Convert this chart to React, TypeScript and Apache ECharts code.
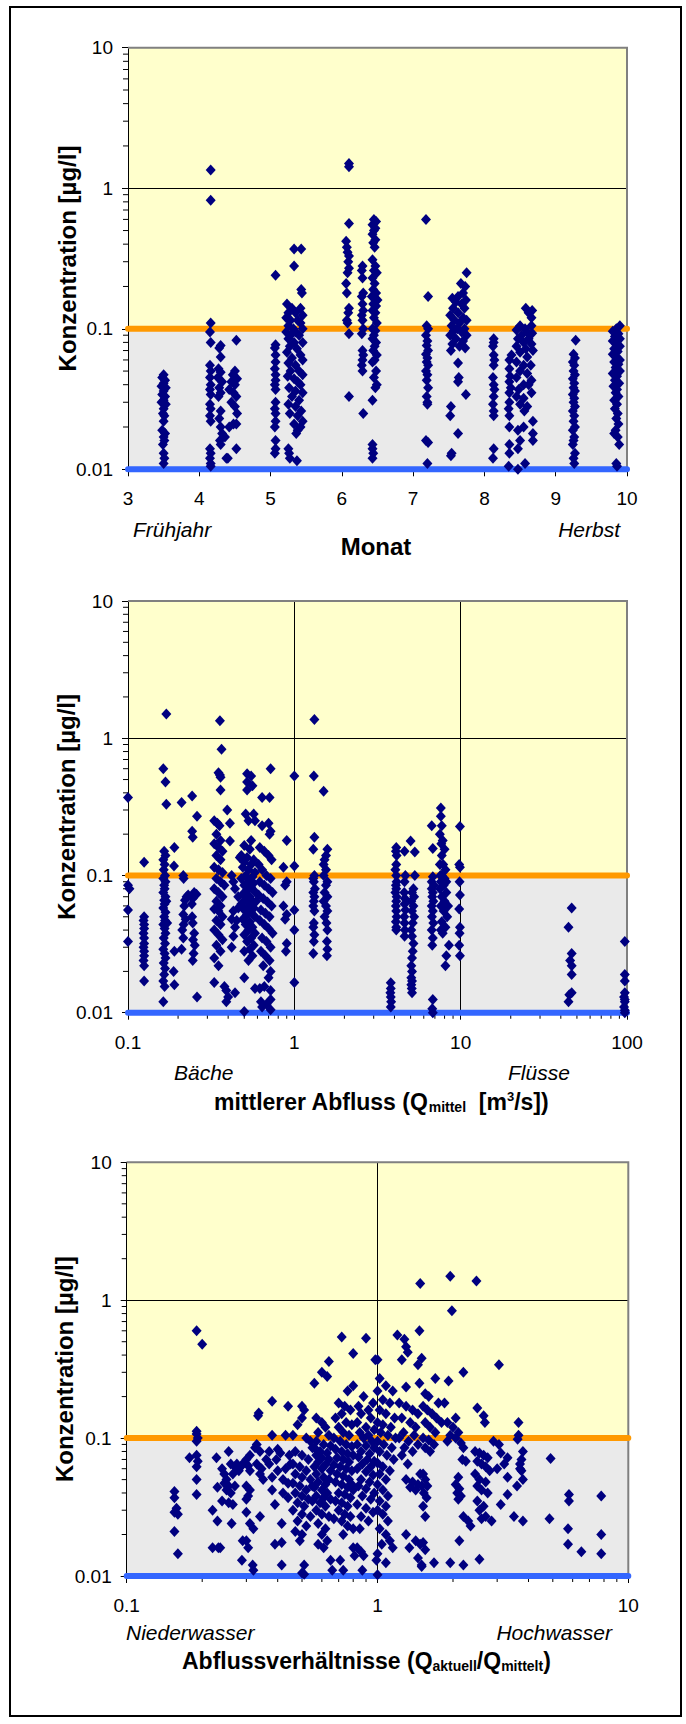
import React, { useEffect, useRef } from "react";
import * as echarts from "echarts";

const FONT = '"Liberation Sans", Arial, sans-serif';
const NAVY = "#000080";
const ORANGE = "#FF9900";
const BLUE = "#3366FF";
const YELLOW = "#FFFFCC";
const GRAY = "#EAEAEA";

const Y_MIN = 0.01;
const Y_MAX = 10;
const LIMIT_UPPER = 0.1;
const LIMIT_LOWER = 0.01;

const Y_MINOR = [0.02, 0.03, 0.04, 0.05, 0.06, 0.07, 0.08, 0.09, 0.2, 0.3, 0.4, 0.5, 0.6, 0.7, 0.8, 0.9, 2, 3, 4, 5, 6, 7, 8, 9];
const X2_MINOR = [0.2, 0.3, 0.4, 0.5, 0.6, 0.7, 0.8, 0.9, 2, 3, 4, 5, 6, 7, 8, 9, 20, 30, 40, 50, 60, 70, 80, 90];
const X3_MINOR = [0.2, 0.3, 0.4, 0.5, 0.6, 0.7, 0.8, 0.9, 2, 3, 4, 5, 6, 7, 8, 9];

const X1_RANGE = [3, 10];
const X2_RANGE = [0.1, 100];
const X3_RANGE = [0.1, 10];

// Panel 1: month vs concentration
const MONTH_POINTS: number[][] = [
  [3.5,0.047],[3.48,0.045],[3.52,0.043],[3.5,0.041],[3.47,0.039],[3.53,0.038],[3.5,0.036],[3.48,0.034],[3.52,0.033],[3.5,0.031],[3.47,0.03],[3.53,0.029],[3.5,0.027],[3.49,0.025],[3.51,0.024],[3.5,0.022],[3.48,0.019],[3.52,0.018],[3.5,0.017],[3.51,0.016],[3.49,0.015],[3.5,0.013],[3.51,0.012],[3.5,0.011],
  [4.16,1.35],[4.16,0.82],[4.16,0.11],[4.15,0.095],[4.16,0.08],[4.15,0.055],[4.16,0.05],[4.15,0.045],[4.16,0.04],[4.15,0.037],[4.16,0.034],[4.15,0.029],[4.16,0.027],[4.15,0.024],[4.16,0.022],[4.15,0.014],[4.16,0.013],[4.15,0.012],[4.16,0.011],[4.16,0.0105],
  [4.3,0.076],[4.28,0.073],[4.3,0.063],[4.27,0.052],[4.3,0.049],[4.26,0.045],[4.32,0.042],[4.28,0.038],[4.3,0.035],[4.27,0.033],[4.3,0.026],[4.28,0.023],[4.3,0.02],[4.32,0.018],[4.29,0.016],[4.3,0.015],[4.36,0.017],[4.38,0.012],
  [4.52,0.083],[4.5,0.05],[4.47,0.047],[4.53,0.044],[4.45,0.042],[4.5,0.04],[4.42,0.037],[4.48,0.035],[4.52,0.033],[4.45,0.03],[4.5,0.028],[4.53,0.025],[4.48,0.021],[4.52,0.021],[4.42,0.02],[4.52,0.014],[4.4,0.012],
  [5.07,0.24],[5.07,0.077],[5.06,0.073],[5.07,0.065],[5.07,0.058],[5.06,0.052],[5.07,0.047],[5.07,0.043],[5.06,0.04],[5.07,0.037],[5.07,0.03],[5.06,0.027],[5.07,0.025],[5.07,0.022],[5.06,0.02],[5.07,0.016],[5.07,0.014],[5.06,0.013],
  [5.33,0.37],[5.43,0.37],[5.33,0.28],[5.43,0.19],[5.44,0.18],[5.23,0.15],[5.3,0.14],[5.42,0.14],[5.25,0.13],[5.35,0.13],[5.45,0.125],[5.22,0.12],[5.28,0.115],[5.38,0.115],[5.42,0.11],[5.25,0.105],[5.32,0.1],[5.45,0.1],[5.22,0.095],[5.35,0.095],[5.28,0.09],[5.4,0.09],[5.25,0.085],[5.33,0.08],[5.45,0.08],[5.27,0.075],[5.37,0.072],[5.23,0.068],[5.42,0.065],[5.3,0.062],[5.45,0.06],[5.25,0.057],[5.35,0.055],[5.28,0.05],[5.4,0.05],[5.45,0.047],[5.24,0.046],[5.33,0.044],[5.38,0.042],[5.42,0.04],[5.26,0.038],[5.35,0.036],[5.45,0.035],[5.3,0.033],[5.4,0.031],[5.25,0.029],[5.35,0.028],[5.43,0.026],[5.27,0.025],[5.38,0.024],[5.45,0.022],[5.33,0.021],[5.42,0.02],[5.38,0.019],[5.36,0.018],[5.25,0.014],[5.26,0.013],[5.27,0.012],[5.37,0.0115],
  [6.1,1.5],[6.1,1.42],[6.1,0.56],[6.06,0.42],[6.07,0.38],[6.08,0.35],[6.1,0.33],[6.09,0.3],[6.1,0.27],[6.08,0.25],[6.06,0.21],[6.07,0.18],[6.1,0.14],[6.09,0.13],[6.07,0.115],[6.08,0.11],[6.1,0.092],[6.1,0.033],
  [6.29,0.28],[6.28,0.26],[6.29,0.23],[6.3,0.18],[6.28,0.17],[6.29,0.15],[6.3,0.135],[6.28,0.125],[6.29,0.115],[6.3,0.1],[6.28,0.092],[6.29,0.07],[6.3,0.065],[6.29,0.06],[6.28,0.055],[6.29,0.05],[6.3,0.025],
  [6.45,0.6],[6.48,0.58],[6.43,0.55],[6.47,0.52],[6.45,0.5],[6.43,0.47],[6.47,0.43],[6.44,0.41],[6.46,0.38],[6.43,0.31],[6.47,0.28],[6.45,0.26],[6.49,0.25],[6.43,0.23],[6.46,0.21],[6.44,0.19],[6.48,0.18],[6.42,0.17],[6.46,0.165],[6.5,0.16],[6.44,0.15],[6.48,0.145],[6.43,0.135],[6.47,0.13],[6.45,0.12],[6.49,0.11],[6.43,0.1],[6.47,0.097],[6.45,0.09],[6.43,0.085],[6.48,0.08],[6.46,0.075],[6.44,0.07],[6.49,0.065],[6.46,0.06],[6.43,0.058],[6.48,0.05],[6.45,0.045],[6.49,0.04],[6.47,0.038],[6.43,0.031],[6.43,0.015],[6.43,0.014],[6.44,0.013],[6.43,0.012],
  [7.18,0.6],[7.21,0.17],[7.19,0.105],[7.21,0.1],[7.18,0.09],[7.2,0.082],[7.19,0.076],[7.21,0.07],[7.18,0.066],[7.2,0.062],[7.19,0.058],[7.21,0.055],[7.18,0.05],[7.2,0.047],[7.19,0.043],[7.21,0.038],[7.19,0.033],[7.2,0.03],[7.2,0.029],[7.18,0.016],[7.21,0.0155],[7.2,0.011],
  [7.75,0.25],[7.67,0.21],[7.73,0.2],[7.7,0.18],[7.63,0.17],[7.55,0.165],[7.74,0.16],[7.6,0.155],[7.68,0.15],[7.56,0.14],[7.72,0.14],[7.63,0.13],[7.52,0.125],[7.7,0.12],[7.58,0.115],[7.75,0.115],[7.65,0.11],[7.54,0.105],[7.62,0.1],[7.72,0.1],[7.57,0.097],[7.68,0.095],[7.52,0.09],[7.75,0.09],[7.6,0.085],[7.7,0.082],[7.55,0.078],[7.65,0.075],[7.73,0.073],[7.53,0.07],[7.63,0.057],[7.64,0.045],[7.63,0.042],[7.74,0.034],[7.53,0.028],[7.52,0.024],[7.63,0.018],[7.54,0.013],[7.53,0.0125],
  [8.13,0.085],[8.13,0.08],[8.12,0.075],[8.13,0.065],[8.14,0.06],[8.13,0.055],[8.12,0.045],[8.13,0.04],[8.14,0.037],[8.13,0.033],[8.12,0.029],[8.13,0.026],[8.13,0.024],[8.13,0.014],[8.12,0.012],
  [8.58,0.14],[8.67,0.135],[8.62,0.13],[8.66,0.12],[8.5,0.105],[8.66,0.105],[8.57,0.1],[8.45,0.098],[8.6,0.095],[8.67,0.093],[8.52,0.09],[8.47,0.085],[8.62,0.085],[8.55,0.08],[8.66,0.078],[8.45,0.075],[8.58,0.072],[8.68,0.07],[8.5,0.068],[8.38,0.065],[8.6,0.063],[8.35,0.06],[8.45,0.058],[8.55,0.055],[8.65,0.055],[8.35,0.052],[8.5,0.05],[8.6,0.048],[8.36,0.046],[8.45,0.045],[8.66,0.043],[8.35,0.042],[8.55,0.04],[8.62,0.04],[8.37,0.038],[8.48,0.037],[8.35,0.035],[8.66,0.035],[8.45,0.033],[8.55,0.032],[8.35,0.03],[8.5,0.029],[8.6,0.028],[8.34,0.027],[8.56,0.026],[8.35,0.024],[8.68,0.022],[8.35,0.02],[8.55,0.02],[8.47,0.019],[8.68,0.018],[8.5,0.016],[8.68,0.016],[8.35,0.015],[8.47,0.014],[8.35,0.013],[8.57,0.011],[8.34,0.0105],[8.47,0.01],
  [9.28,0.083],[9.25,0.066],[9.27,0.062],[9.24,0.058],[9.26,0.055],[9.25,0.05],[9.27,0.047],[9.24,0.044],[9.26,0.041],[9.25,0.038],[9.27,0.036],[9.24,0.034],[9.26,0.032],[9.25,0.03],[9.27,0.028],[9.24,0.026],[9.26,0.024],[9.25,0.022],[9.27,0.02],[9.24,0.019],[9.26,0.017],[9.25,0.016],[9.24,0.015],[9.27,0.013],[9.25,0.012],[9.26,0.011],
  [9.9,0.105],[9.85,0.1],[9.8,0.096],[9.88,0.092],[9.83,0.088],[9.9,0.085],[9.8,0.082],[9.86,0.078],[9.9,0.075],[9.82,0.072],[9.87,0.069],[9.8,0.066],[9.85,0.063],[9.9,0.06],[9.82,0.058],[9.88,0.056],[9.84,0.053],[9.9,0.05],[9.8,0.048],[9.86,0.046],[9.83,0.043],[9.89,0.041],[9.81,0.039],[9.86,0.037],[9.84,0.035],[9.88,0.033],[9.82,0.031],[9.86,0.029],[9.83,0.027],[9.87,0.025],[9.85,0.023],[9.88,0.021],[9.84,0.019],[9.87,0.017],[9.82,0.018],[9.89,0.015],[9.85,0.011],[9.86,0.0105]
];

// Panel 2: mean discharge vs concentration
const FLOW_POINTS: number[][] = [
  [0.1,0.37],[0.1,0.085],[0.102,0.08],[0.1,0.056],[0.1,0.033],
  [0.125,0.125],[0.125,0.05],[0.124,0.047],[0.125,0.044],[0.125,0.041],[0.124,0.038],[0.125,0.035],[0.125,0.032],[0.124,0.03],[0.125,0.028],[0.125,0.026],[0.124,0.024],[0.125,0.022],[0.125,0.017],
  [0.17,1.5],[0.163,0.6],[0.168,0.48],[0.17,0.33],[0.165,0.15],[0.168,0.14],[0.163,0.13],[0.166,0.12],[0.164,0.11],[0.167,0.1],[0.163,0.095],[0.168,0.09],[0.165,0.085],[0.166,0.08],[0.163,0.075],[0.168,0.07],[0.165,0.066],[0.166,0.062],[0.163,0.058],[0.168,0.054],[0.165,0.05],[0.167,0.047],[0.163,0.044],[0.166,0.041],[0.168,0.038],[0.164,0.035],[0.167,0.032],[0.163,0.029],[0.166,0.027],[0.168,0.025],[0.164,0.023],[0.167,0.021],[0.165,0.019],[0.163,0.017],[0.166,0.0155],[0.163,0.012],[0.17,0.065],[0.172,0.045],
  [0.19,0.16],[0.189,0.117],[0.19,0.028],[0.188,0.02],[0.19,0.016],
  [0.21,0.34],[0.215,0.1],[0.216,0.095],[0.225,0.07],[0.22,0.066],[0.218,0.06],[0.215,0.052],[0.222,0.048],[0.216,0.044],[0.212,0.04],[0.215,0.035],[0.21,0.029],[0.23,0.072],
  [0.243,0.38],[0.26,0.27],[0.243,0.21],[0.245,0.19],[0.25,0.075],[0.245,0.068],[0.242,0.062],[0.243,0.05],[0.245,0.045],[0.25,0.038],[0.246,0.034],[0.252,0.031],[0.248,0.027],[0.245,0.024],[0.26,0.013],[0.258,0.073],
  [0.357,1.34],[0.365,0.83],[0.35,0.56],[0.357,0.54],[0.36,0.52],[0.36,0.42],[0.395,0.3],[0.33,0.25],[0.345,0.24],[0.355,0.23],[0.34,0.2],[0.36,0.18],[0.33,0.17],[0.35,0.16],[0.37,0.15],[0.34,0.14],[0.36,0.13],[0.33,0.115],[0.35,0.11],[0.37,0.105],[0.34,0.095],[0.36,0.09],[0.38,0.085],[0.33,0.08],[0.35,0.075],[0.37,0.07],[0.34,0.065],[0.36,0.06],[0.33,0.057],[0.35,0.055],[0.37,0.05],[0.34,0.047],[0.36,0.044],[0.33,0.04],[0.35,0.037],[0.37,0.034],[0.34,0.031],[0.36,0.028],[0.33,0.025],[0.35,0.022],[0.33,0.0166],[0.38,0.0155],[0.39,0.0145],[0.4,0.013],[0.39,0.012],
  [0.41,0.24],[0.41,0.178],[0.42,0.1],[0.43,0.09],[0.44,0.08],[0.43,0.055],[0.42,0.048],[0.44,0.042],[0.43,0.036],[0.42,0.03],[0.44,0.014],[0.45,0.047],[0.46,0.058],
  [0.52,0.55],[0.55,0.53],[0.52,0.48],[0.56,0.45],[0.52,0.42],[0.51,0.28],[0.57,0.28],[0.53,0.25],[0.58,0.25],[0.55,0.18],[0.5,0.165],[0.54,0.155],[0.48,0.14],[0.52,0.135],[0.57,0.13],[0.5,0.125],[0.55,0.12],[0.49,0.115],[0.53,0.11],[0.58,0.105],[0.51,0.1],[0.56,0.098],[0.48,0.095],[0.53,0.09],[0.57,0.088],[0.5,0.085],[0.55,0.082],[0.52,0.078],[0.58,0.076],[0.49,0.073],[0.54,0.07],[0.51,0.067],[0.56,0.065],[0.48,0.062],[0.53,0.06],[0.57,0.058],[0.5,0.056],[0.55,0.054],[0.52,0.052],[0.58,0.05],[0.49,0.048],[0.54,0.046],[0.51,0.044],[0.56,0.042],[0.53,0.04],[0.58,0.038],[0.5,0.037],[0.55,0.035],[0.52,0.033],[0.57,0.031],[0.54,0.029],[0.5,0.028],[0.56,0.026],[0.53,0.024],[0.5,0.018],[0.58,0.015],[0.5,0.0102],[0.47,0.135],[0.46,0.07],[0.59,0.065],
  [0.72,0.6],[0.64,0.37],[0.71,0.37],[0.64,0.23],[0.72,0.21],[0.71,0.2],[0.7,0.24],[0.62,0.16],[0.66,0.15],[0.7,0.14],[0.73,0.13],[0.61,0.12],[0.64,0.11],[0.68,0.1],[0.72,0.095],[0.62,0.09],[0.66,0.085],[0.7,0.08],[0.74,0.075],[0.61,0.072],[0.65,0.068],[0.69,0.064],[0.73,0.06],[0.63,0.056],[0.67,0.053],[0.71,0.05],[0.62,0.047],[0.66,0.044],[0.7,0.041],[0.74,0.038],[0.64,0.035],[0.68,0.033],[0.72,0.03],[0.63,0.028],[0.67,0.026],[0.71,0.024],[0.65,0.022],[0.72,0.02],[0.7,0.018],[0.62,0.015],[0.66,0.0155],[0.72,0.0145],[0.63,0.012],[0.68,0.0115],[0.72,0.0125],[0.64,0.011],[0.72,0.0105],
  [0.9,0.18],[0.86,0.115],[0.9,0.09],[0.88,0.085],[0.86,0.06],[0.9,0.052],[0.88,0.048],[0.9,0.032],[0.89,0.028],
  [1.0,0.53],[1.0,0.117],[1.0,0.056],[1.0,0.04],[1.0,0.0166],
  [1.32,1.37],[1.31,0.53],[1.32,0.19],[1.3,0.155],[1.32,0.1],[1.3,0.095],[1.31,0.09],[1.33,0.08],[1.3,0.075],[1.32,0.07],[1.31,0.065],[1.3,0.06],[1.32,0.055],[1.31,0.045],[1.3,0.042],[1.32,0.037],[1.31,0.033],[1.3,0.027],
  [1.5,0.41],[1.58,0.155],[1.55,0.14],[1.52,0.13],[1.5,0.12],[1.55,0.11],[1.5,0.1],[1.58,0.09],[1.55,0.085],[1.52,0.075],[1.58,0.07],[1.5,0.065],[1.55,0.06],[1.58,0.055],[1.52,0.05],[1.56,0.045],[1.58,0.04],[1.57,0.033],[1.58,0.029],[1.57,0.026],
  [3.8,0.0165],[3.8,0.015],[3.78,0.014],[3.8,0.013],[3.82,0.012],[3.8,0.011],
  [4.1,0.16],[4.08,0.15],[4.12,0.14],[4.1,0.12],[4.05,0.11],[4.1,0.1],[4.12,0.09],[4.08,0.085],[4.1,0.08],[4.05,0.075],[4.12,0.07],[4.1,0.065],[4.08,0.06],[4.1,0.055],[4.12,0.05],[4.08,0.046],[4.1,0.042],[4.1,0.04],
  [4.6,0.15],[4.65,0.1],[4.6,0.09],[4.58,0.075],[4.62,0.068],[4.6,0.062],[4.65,0.056],[4.58,0.05],[4.6,0.045],[4.62,0.04],[4.6,0.036],
  [5.0,0.178],[5.3,0.148],[5.3,0.1],[5.2,0.08],[5.1,0.075],[5.25,0.07],[5.05,0.065],[5.2,0.06],[5.1,0.055],[5.25,0.05],[5.15,0.045],[5.05,0.04],[5.1,0.036],[5.2,0.032],[5.15,0.028],[5.1,0.025],[5.05,0.022],[5.1,0.02],[5.05,0.018],[5.1,0.017],[5.05,0.016],[5.08,0.015],[5.1,0.014],
  [6.7,0.23],[6.8,0.157],[6.8,0.098],[6.7,0.09],[6.9,0.085],[6.7,0.08],[6.8,0.075],[6.75,0.07],[6.85,0.065],[6.7,0.06],[6.8,0.055],[6.72,0.05],[6.85,0.045],[6.7,0.04],[6.8,0.035],[6.75,0.031],[6.8,0.0125],[6.75,0.0107],[6.8,0.01],
  [7.6,0.31],[7.6,0.27],[7.7,0.23],[7.5,0.2],[7.8,0.18],[7.65,0.17],[8.0,0.155],[7.7,0.14],[7.5,0.12],[8.1,0.11],[7.7,0.1],[8.0,0.095],[7.6,0.09],[7.9,0.085],[7.5,0.08],[8.2,0.075],[7.7,0.07],[8.0,0.065],[7.6,0.06],[7.9,0.055],[8.3,0.05],[7.7,0.046],[8.1,0.042],[7.8,0.038],[8.5,0.031],[8.2,0.026],[8.1,0.022],[7.55,0.1],[7.85,0.12],[8.2,0.09],[7.6,0.04],[8.4,0.06],
  [9.9,0.227],[9.8,0.12],[9.9,0.115],[9.85,0.09],[9.9,0.072],[9.8,0.057],[9.9,0.042],[9.85,0.038],[9.8,0.031],[9.9,0.026],
  [46.5,0.058],[44.5,0.042],[46.5,0.027],[45.5,0.024],[46.5,0.022],[46.5,0.019],[46.5,0.014],[44.5,0.012],[45,0.0135],
  [97,0.033],[97,0.019],[97,0.017],[97,0.014],[96,0.013],[97,0.0125],[97,0.012],[96,0.011],[97,0.0104],[97,0.01]
];

// Panel 3: discharge ratio vs concentration
const RATIO_POINTS: number[][] = [
  [0.155,0.041],[0.155,0.037],[0.158,0.031],[0.155,0.029],[0.16,0.028],[0.155,0.021],[0.16,0.0145],
  [0.178,0.072],[0.19,0.6],[0.2,0.48],[0.19,0.112],[0.19,0.107],[0.192,0.1],[0.19,0.095],[0.19,0.075],[0.192,0.068],[0.19,0.062],[0.19,0.05],[0.19,0.039],
  [0.22,0.03],[0.22,0.016],[0.228,0.072],[0.23,0.025],[0.232,0.016],
  [0.24,0.06],[0.245,0.055],[0.25,0.05],[0.245,0.047],[0.255,0.08],[0.26,0.065],[0.27,0.062],[0.265,0.055],[0.255,0.045],[0.25,0.042],[0.26,0.04],[0.275,0.065],[0.28,0.058],[0.285,0.062],[0.24,0.035],[0.255,0.034],[0.265,0.033],[0.262,0.024],[0.236,0.016],[0.27,0.045],[0.23,0.044],
  [0.336,0.152],[0.334,0.145],[0.33,0.09],[0.325,0.085],[0.31,0.075],[0.3,0.07],[0.305,0.063],[0.31,0.058],[0.34,0.055],[0.3,0.045],[0.31,0.042],[0.305,0.038],[0.3,0.036],[0.3,0.029],[0.34,0.027],[0.31,0.024],[0.32,0.022],[0.29,0.018],[0.3,0.018],[0.305,0.016],[0.288,0.013],[0.318,0.012],[0.32,0.011],[0.33,0.065],[0.345,0.06],[0.35,0.05],[0.29,0.065],[0.34,0.08],
  [0.38,0.185],[0.44,0.17],[0.38,0.105],[0.43,0.105],[0.4,0.083],[0.41,0.078],[0.395,0.07],[0.37,0.065],[0.38,0.052],[0.42,0.05],[0.44,0.047],[0.38,0.042],[0.42,0.04],[0.44,0.037],[0.39,0.033],[0.415,0.024],[0.39,0.017],[0.415,0.0175],[0.415,0.012],[0.45,0.065],[0.43,0.06],[0.4,0.058],[0.36,0.07],[0.37,0.08],[0.445,0.075],
  [0.5,0.17],[0.51,0.16],[0.5,0.14],[0.48,0.125],[0.46,0.105],[0.52,0.1],[0.54,0.095],[0.55,0.085],[0.47,0.08],[0.5,0.075],[0.53,0.07],[0.46,0.065],[0.49,0.062],[0.52,0.058],[0.47,0.055],[0.5,0.052],[0.54,0.05],[0.46,0.047],[0.49,0.045],[0.52,0.042],[0.47,0.04],[0.5,0.038],[0.53,0.036],[0.48,0.034],[0.51,0.032],[0.46,0.03],[0.5,0.028],[0.54,0.027],[0.48,0.025],[0.52,0.023],[0.47,0.021],[0.5,0.02],[0.49,0.018],[0.51,0.012],[0.5,0.0105],[0.51,0.0103],[0.55,0.045],[0.55,0.035],
  [0.56,0.25],[0.6,0.3],[0.63,0.28],[0.64,0.36],[0.57,0.14],[0.6,0.13],[0.62,0.12],[0.58,0.11],[0.64,0.105],[0.57,0.095],[0.61,0.09],[0.65,0.088],[0.56,0.085],[0.59,0.08],[0.63,0.078],[0.57,0.075],[0.6,0.072],[0.64,0.07],[0.58,0.067],[0.62,0.064],[0.56,0.062],[0.6,0.06],[0.65,0.058],[0.57,0.055],[0.61,0.052],[0.64,0.05],[0.58,0.048],[0.62,0.046],[0.56,0.044],[0.6,0.042],[0.63,0.04],[0.57,0.038],[0.61,0.037],[0.65,0.036],[0.59,0.034],[0.62,0.032],[0.57,0.03],[0.6,0.028],[0.64,0.027],[0.58,0.024],[0.62,0.022],[0.6,0.02],[0.63,0.018],[0.61,0.016],[0.65,0.013],[0.66,0.011],[0.58,0.017],
  [0.72,0.54],[0.8,0.41],[0.8,0.24],[0.76,0.22],[0.7,0.18],[0.74,0.17],[0.78,0.16],[0.72,0.15],[0.68,0.14],[0.75,0.13],[0.79,0.125],[0.7,0.12],[0.73,0.11],[0.77,0.105],[0.67,0.1],[0.71,0.095],[0.75,0.09],[0.79,0.087],[0.68,0.083],[0.72,0.08],[0.76,0.077],[0.8,0.075],[0.69,0.072],[0.73,0.07],[0.77,0.067],[0.67,0.064],[0.71,0.062],[0.75,0.06],[0.79,0.058],[0.69,0.055],[0.73,0.053],[0.77,0.05],[0.68,0.048],[0.72,0.046],[0.76,0.044],[0.8,0.042],[0.7,0.04],[0.74,0.039],[0.78,0.037],[0.68,0.035],[0.72,0.034],[0.76,0.032],[0.7,0.03],[0.74,0.028],[0.78,0.027],[0.72,0.025],[0.76,0.023],[0.8,0.022],[0.73,0.02],[0.8,0.016],[0.81,0.014],[0.71,0.013],[0.73,0.011],[0.67,0.026],[0.79,0.046],
  [0.9,0.53],[0.98,0.37],[0.88,0.2],[0.96,0.18],[0.84,0.17],[0.92,0.16],[0.86,0.15],[0.94,0.14],[0.83,0.13],[0.9,0.12],[0.97,0.115],[0.85,0.11],[0.92,0.105],[0.88,0.1],[0.95,0.095],[0.83,0.09],[0.9,0.088],[0.97,0.085],[0.86,0.08],[0.93,0.077],[0.84,0.073],[0.91,0.07],[0.97,0.068],[0.87,0.065],[0.94,0.062],[0.83,0.06],[0.9,0.057],[0.96,0.054],[0.86,0.05],[0.93,0.048],[0.84,0.045],[0.9,0.043],[0.97,0.04],[0.87,0.038],[0.94,0.036],[0.83,0.033],[0.9,0.031],[0.96,0.029],[0.86,0.027],[0.92,0.025],[0.85,0.022],[0.83,0.016],[0.86,0.015],[0.88,0.014],[0.87,0.011],
  [1.0,0.37],[1.02,0.27],[1.08,0.24],[1.15,0.22],[1.0,0.22],[1.05,0.19],[1.12,0.18],[1.02,0.16],[1.08,0.15],[1.17,0.14],[1.0,0.13],[1.05,0.125],[1.13,0.12],[1.03,0.11],[1.1,0.105],[1.18,0.1],[1.0,0.095],[1.06,0.09],[1.14,0.085],[1.02,0.08],[1.09,0.075],[1.16,0.07],[1.0,0.066],[1.05,0.062],[1.12,0.058],[1.02,0.055],[1.08,0.05],[1.0,0.046],[1.05,0.042],[1.1,0.038],[1.02,0.035],[1.08,0.032],[1.0,0.03],[1.05,0.028],[1.1,0.025],[1.02,0.022],[1.08,0.02],[1.12,0.018],[1.15,0.016],[1.0,0.0145],[0.99,0.013],[1.08,0.0125],[1.0,0.0102],[1.04,0.017],
  [1.2,0.56],[1.28,0.52],[1.3,0.46],[1.32,0.42],[1.25,0.37],[1.45,0.34],[1.47,0.6],[1.48,1.32],[1.47,0.25],[1.3,0.235],[1.22,0.18],[1.3,0.17],[1.38,0.16],[1.45,0.15],[1.25,0.14],[1.35,0.13],[1.42,0.12],[1.27,0.11],[1.4,0.105],[1.22,0.1],[1.33,0.095],[1.45,0.09],[1.28,0.085],[1.38,0.08],[1.25,0.075],[1.32,0.065],[1.3,0.05],[1.38,0.048],[1.45,0.046],[1.35,0.044],[1.42,0.042],[1.3,0.02],[1.42,0.018],[1.48,0.017],[1.34,0.016],[1.45,0.0135],[1.5,0.0117],[1.5,0.012],[1.48,0.055],[1.5,0.045],
  [1.5,0.38],[1.7,0.27],[1.55,0.21],[1.6,0.2],[1.52,0.17],[1.58,0.16],[1.65,0.15],[1.72,0.14],[1.55,0.13],[1.62,0.12],[1.7,0.11],[1.52,0.1],[1.6,0.097],[1.68,0.09],[1.55,0.085],[1.62,0.08],[1.52,0.055],[1.55,0.05],[1.58,0.045],[1.53,0.04],[1.57,0.037],[1.52,0.032],[1.55,0.027],[1.52,0.0175],[1.55,0.0155],[1.68,0.0125],[1.75,0.18],[1.8,0.13],
  [1.95,1.49],[1.98,0.84],[2.2,0.3],[1.92,0.26],[1.85,0.18],[2.05,0.14],[1.9,0.13],[2.0,0.12],[2.1,0.11],[1.95,0.105],[2.05,0.1],[1.9,0.095],[2.15,0.092],[2.2,0.085],[2.18,0.07],[2.25,0.068],[2.1,0.052],[2.05,0.046],[2.12,0.043],[2.08,0.04],[2.15,0.038],[2.1,0.036],[2.2,0.027],[2.3,0.025],[2.35,0.023],[2.12,0.018],[1.95,0.0125],[2.2,0.012],
  [2.48,1.38],[2.5,0.165],[2.65,0.145],[2.68,0.13],[2.9,0.095],[2.45,0.08],[2.55,0.078],[2.65,0.075],[2.75,0.072],[2.5,0.068],[2.6,0.065],[2.7,0.062],[2.8,0.058],[2.45,0.055],[2.55,0.05],[2.7,0.048],[2.5,0.045],[2.6,0.042],[2.75,0.04],[2.5,0.035],[2.65,0.032],[2.55,0.03],[2.7,0.027],[2.6,0.026],[2.85,0.025],[2.55,0.0132],
  [3.05,0.34],[3.65,0.13],[3.65,0.105],[3.62,0.098],[3.05,0.09],[3.1,0.078],[3.3,0.072],[3.2,0.065],[3.0,0.06],[3.3,0.052],[3.8,0.08],[3.75,0.07],[3.7,0.065],[3.75,0.058],[3.8,0.05],[3.6,0.045],[3.3,0.039],[3.1,0.033],[3.5,0.027],[3.8,0.025],[3.7,0.06],
  [4.9,0.071],[4.85,0.026],[5.8,0.039],[5.8,0.035],[5.75,0.022],[5.75,0.017],[6.5,0.015],[7.8,0.038],[7.8,0.02],[7.8,0.0145]
];

const GRIDS = [
  { left: 128, top: 47.7, width: 499, height: 421.6 },
  { left: 128, top: 601, width: 499, height: 411.7 },
  { left: 126.7, top: 1162.3, width: 501.6, height: 413.7 },
];

const fmt = (v: number) => String(parseFloat(Number(v).toPrecision(4)));

function buildOption() {
  const xRanges = [X1_RANGE, X2_RANGE, X3_RANGE];
  const points = [MONTH_POINTS, FLOW_POINTS, RATIO_POINTS];
  const xMinors = [null, X2_MINOR, X3_MINOR];

  const grid = GRIDS.map((g) => ({ ...g, show: false, containLabel: false, outerBoundsMode: "none" }));

  const labelStyle = { color: "#000", fontSize: 19, fontFamily: FONT };
  const xAxis = xRanges.map((r, i) => ({
    gridIndex: i,
    type: i === 0 ? "value" : "log",
    logBase: 10,
    min: r[0],
    max: r[1],
    interval: i === 0 ? 1 : undefined,
    z: 1,
    axisLine: { show: true, onZero: false, lineStyle: { color: "#000", width: 1 } },
    axisTick: { show: true, length: 7, lineStyle: { color: "#000", width: 1 } },
    axisLabel: { ...labelStyle, margin: 20, formatter: fmt },
    splitLine: { show: i !== 0, lineStyle: { color: "#000", width: 1 } },
    splitArea: { show: false },
  }));
  const yAxis = GRIDS.map((_, i) => ({
    gridIndex: i,
    type: "log",
    logBase: 10,
    min: Y_MIN,
    max: Y_MAX,
    z: 0,
    axisLine: { show: true, onZero: false, lineStyle: { color: "#000", width: 1 } },
    axisTick: { show: true, length: 6, lineStyle: { color: "#000", width: 1 } },
    axisLabel: { ...labelStyle, margin: 15, formatter: fmt },
    splitLine: { show: true, lineStyle: { color: "#000", width: 1 } },
    splitArea: { show: true, areaStyle: { color: [GRAY, YELLOW, YELLOW] } },
  }));

  const series: any[] = [];
  points.forEach((pts, i) => {
    const r = xRanges[i];
    series.push({
      type: "scatter",
      xAxisIndex: i,
      yAxisIndex: i,
      data: pts,
      symbol: "diamond",
      symbolSize: [10, 11],
      itemStyle: { color: NAVY, opacity: 1 },
      z: 10,
      clip: false,
      silent: true,
    });
    [
      [LIMIT_UPPER, ORANGE],
      [LIMIT_LOWER, BLUE],
    ].forEach(([v, c]) => {
      series.push({
        type: "line",
        xAxisIndex: i,
        yAxisIndex: i,
        data: [
          [r[0], v],
          [r[1], v],
        ],
        symbol: "none",
        lineStyle: { color: c, width: 6, cap: "round" },
        z: 5,
        clip: false,
        silent: true,
      });
    });
    series.push({
      type: "scatter",
      xAxisIndex: i,
      yAxisIndex: i,
      data: Y_MINOR.map((v) => [r[0], v]),
      symbol: "rect",
      symbolSize: [5, 1],
      symbolOffset: [-2.5, 0],
      itemStyle: { color: "#000", opacity: 1 },
      z: 4,
      clip: false,
      silent: true,
    });
    const xm = xMinors[i];
    if (xm) {
      series.push({
        type: "scatter",
        xAxisIndex: i,
        yAxisIndex: i,
        data: xm.map((v) => [v, Y_MIN]),
        symbol: "rect",
        symbolSize: [1, 6],
        symbolOffset: [0, 3],
        itemStyle: { color: "#000", opacity: 1 },
        z: 4,
        clip: false,
        silent: true,
      });
    }
  });

  const borders = GRIDS.map((g) => ({
    type: "polyline",
    z: 3,
    silent: true,
    shape: {
      points: [
        [g.left, g.top],
        [g.left + g.width, g.top],
        [g.left + g.width, g.top + g.height],
      ],
    },
    style: { stroke: "#808080", lineWidth: 2, fill: null },
  }));

  const yTitle = (x: number, y: number) => ({
    type: "text",
    x,
    y,
    rotation: Math.PI / 2,
    z: 20,
    style: {
      text: "Konzentration [µg/l]",
      font: `bold 24px ${FONT}`,
      fill: "#000",
      align: "center",
      verticalAlign: "middle",
    },
  });
  const note = (text: string, x: number, y: number, align: string) => ({
    type: "text",
    x,
    y,
    z: 20,
    style: { text, font: `italic 21px ${FONT}`, fill: "#000", align, verticalAlign: "middle" },
  });
  const rich = {
    m: { fontSize: 23, fontWeight: "bold", fontFamily: FONT, lineHeight: 24, fill: "#000" },
    s: { fontSize: 14, fontWeight: "bold", fontFamily: FONT, lineHeight: 10, verticalAlign: "bottom", fill: "#000" },
    p: { fontSize: 13, fontWeight: "bold", fontFamily: FONT, lineHeight: 10, verticalAlign: "top", fill: "#000" },
  };

  const graphic = [
    {
      type: "rect",
      z: 1,
      silent: true,
      shape: { x: 10, y: 7, width: 671, height: 1709 },
      style: { stroke: "#000", lineWidth: 2, fill: null },
    },
    ...borders,
    yTitle(67, 258.5),
    yTitle(66, 806.9),
    yTitle(64, 1369.2),
    note("Frühjahr", 133, 529.5, "left"),
    note("Herbst", 620, 529.5, "right"),
    note("Bäche", 174, 1072.5, "left"),
    note("Flüsse", 508, 1072.5, "left"),
    note("Niederwasser", 126, 1632.5, "left"),
    note("Hochwasser", 612, 1632.5, "right"),
    {
      type: "text",
      x: 376,
      y: 546.5,
      z: 20,
      style: { text: "Monat", font: `bold 24px ${FONT}`, fill: "#000", align: "center", verticalAlign: "middle" },
    },
    {
      type: "text",
      x: 214,
      y: 1102,
      z: 20,
      style: {
        text: "{m|mittlerer Abfluss (Q}{s|mittel}{m|  [m}{p|3}{m|/s])}",
        rich,
        align: "left",
        verticalAlign: "middle",
      },
    },
    {
      type: "text",
      x: 182,
      y: 1660.7,
      z: 20,
      style: {
        text: "{m|Abflussverhältnisse (Q}{s|aktuell}{m|/Q}{s|mittelt}{m|)}",
        rich,
        align: "left",
        verticalAlign: "middle",
      },
    },
  ];

  return {
    animation: false,
    backgroundColor: "#fff",
    grid,
    xAxis,
    yAxis,
    series,
    graphic,
  };
}

export default function App() {
  const ref = useRef<HTMLDivElement>(null);
  useEffect(() => {
    document.body.style.margin = "0";
    if (!ref.current) return;
    const chart = echarts.init(ref.current, null, { renderer: "svg" });
    chart.setOption(buildOption() as any);
    return () => chart.dispose();
  }, []);
  return <div ref={ref} style={{ width: 686, height: 1724 }} />;
}
